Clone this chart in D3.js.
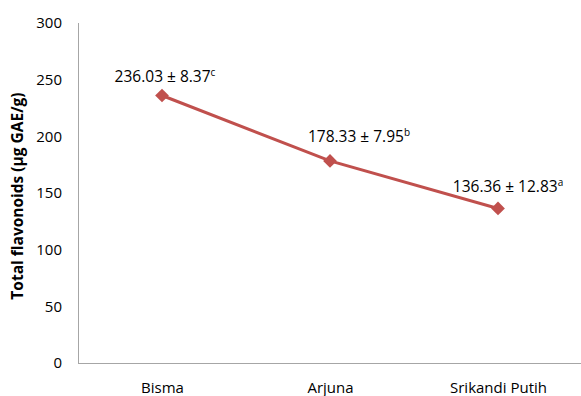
<!DOCTYPE html>
<html><head><meta charset="utf-8">
<script src="https://cdn.jsdelivr.net/npm/d3@7"></script>
<style>
body{margin:0;background:#fff;}
text{font-family:"Open Sans","Noto Sans",sans-serif;fill:#000;}
</style></head>
<body><svg id="c" width="581" height="396"></svg>
<script>
const categories = ["Bisma", "Arjuna", "Srikandi Putih"];
const values = [236.03, 178.33, 136.36];
const sds = ["8.37", "7.95", "12.83"];
const letters = ["c", "b", "a"];
const yTicks = [0, 50, 100, 150, 200, 250, 300];
const yTitle = "Total flavonoids (µg GAE/g)";

(function(){
const svg = d3.select("#c");
const mL = 78, mR = 582, mT = 23, mB = 363;
const x = d3.scalePoint().domain(categories).range([mL, mR]).padding(0.5);
const y = d3.scaleLinear().domain([0, 300]).range([mB, mT]);

svg.append("line").attr("x1", mL+0.5).attr("x2", mL+0.5).attr("y1", mT).attr("y2", mB)
  .attr("stroke", "#a6a6a6").attr("stroke-width", 1);
svg.append("line").attr("x1", mL).attr("x2", mR).attr("y1", mB+0.5).attr("y2", mB+0.5)
  .attr("stroke", "#a6a6a6").attr("stroke-width", 1);

const yAxis = d3.axisLeft(y).tickValues(yTicks).tickSize(0).tickPadding(16);
const gy = svg.append("g").attr("transform", `translate(${mL},0)`).call(yAxis);
gy.select(".domain").remove();
gy.selectAll("text").style("font-size", "15px").style("font-family", "'Open Sans',sans-serif").attr("fill", "#000");

const xAxis = d3.axisBottom(x).tickSize(0).tickPadding(19);
const gx = svg.append("g").attr("transform", `translate(0,${mB})`).call(xAxis);
gx.select(".domain").remove();
gx.selectAll("text").style("font-size", "15px").style("font-family", "'Open Sans',sans-serif").attr("fill", "#000");

svg.append("text").attr("transform", `translate(23,${(mT+mB)/2 + 3}) rotate(-90)`)
  .attr("text-anchor", "middle").style("font-size", "15.5px").style("font-weight", "bold").text(yTitle);

const line = d3.line().x((d,i)=>x(categories[i])).y(d=>y(d));
svg.append("path").datum(values).attr("d", line).attr("fill", "none")
  .attr("stroke", "#c0504d").attr("stroke-width", 3);

svg.selectAll(".m").data(values).enter().append("path")
  .attr("d", d3.symbol().type(d3.symbolDiamond2).size(120)())
  .attr("transform", (d,i)=>`translate(${x(categories[i])},${y(d)})`)
  .attr("fill", "#c0504d");

const labelDx = [3, 29, 10];
const labelDy = [-13, -19, -16];
const lab = svg.selectAll(".lab").data(values).enter().append("text")
  .attr("x", (d,i)=>x(categories[i]) + labelDx[i])
  .attr("y", (d,i)=>y(d) + labelDy[i])
  .attr("text-anchor", "middle").style("font-size", "15.5px");
lab.append("tspan").text((d,i)=>d.toFixed(2) + " ± " + sds[i]);
lab.append("tspan").attr("dy", -6).style("font-size", "10px").text((d,i)=>letters[i]);
})();
</script></body></html>
